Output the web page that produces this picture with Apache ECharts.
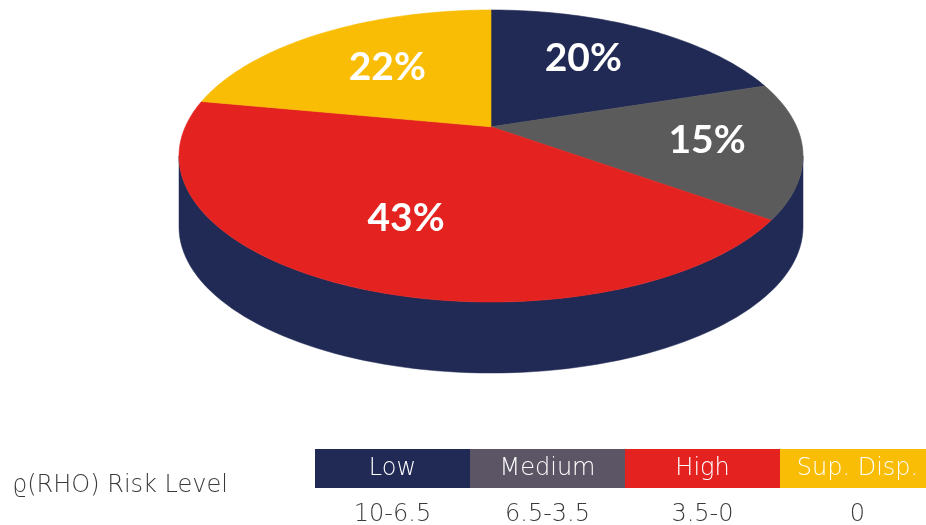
<!DOCTYPE html>
<html>
<head>
<meta charset="utf-8">
<script src="https://cdn.jsdelivr.net/npm/echarts@6/dist/echarts.min.js"></script>
<style>
  html, body { margin: 0; padding: 0; background: #ffffff; }
  #chart { width: 926px; height: 525px; }
</style>
</head>
<body>
<div id="chart"></div>
<script>
// Risk level categories and their share of the total (percent)
const categories = ['Low', 'Medium', 'High', 'Sup. Disp.'];
const shares = [20, 15, 43, 22];
const rangeLabels = ['10-6.5', '6.5-3.5', '3.5-0', '0'];
const rowTitle = 'ϱ(RHO) Risk Level';

const sliceColors = ['#212a54', '#5b5b5b', '#e42320', '#f9bd05'];
const headerColors = ['#212a54', '#5c5566', '#e42320', '#f9bd05'];
const sideColor = '#212a54';

// Tilted-disc geometry: ellipse of the top face, wall height, perspective tilt
const CX = 491, CY = 156, RX = 312, RY = 146, DEPTH = 71, TILT = -0.2;
const GAMMA = 1 / Math.sqrt(1 - TILT * TILT);
// label placement: radial position (fraction of radius) and a small vertical nudge in px
const labelRadius = [0.56, 0.7, 0.62, 0.58];
const labelNudgeY = [-10, -2, 2, -2];

// Map a point of the flat disc (radius r in 0..1, angle clockwise from 12 o'clock)
// onto the screen with a simple perspective tilt.
function project(r, ang) {
  const x = r * Math.sin(ang);
  const y = -r * Math.cos(ang);
  const d = 1 + TILT * y;
  return [CX + RX * x / (GAMMA * d), CY + RY * (y + TILT) / d];
}

const total = shares.reduce((a, b) => a + b, 0);
const startAngles = [];
shares.reduce((acc, v, i) => { startAngles[i] = acc; return acc + v; }, 0);

function renderSide() {
  const pts = [];
  const n = 90;
  for (let k = 0; k <= n; k++) {
    const s = Math.PI * k / n;
    pts.push([CX + RX * Math.cos(s), CY + RY * Math.sin(s)]);
  }
  for (let k = n; k >= 0; k--) {
    const s = Math.PI * k / n;
    pts.push([CX + RX * Math.cos(s), CY + DEPTH + RY * Math.sin(s)]);
  }
  return {
    type: 'polygon',
    shape: { points: pts },
    style: { fill: sideColor, stroke: sideColor, lineWidth: 0.5 }
  };
}

function renderSlice(params, api) {
  const i = params.dataIndex;
  const value = api.value(0);
  const a0 = startAngles[i] / total * Math.PI * 2;
  const a1 = (startAngles[i] + value) / total * Math.PI * 2;
  const pts = [project(0, 0)];
  const steps = Math.max(8, Math.ceil((a1 - a0) / 0.02));
  for (let k = 0; k <= steps; k++) {
    pts.push(project(1, a0 + (a1 - a0) * k / steps));
  }
  const mid = (a0 + a1) / 2;
  const lp = project(labelRadius[i], mid);
  return {
    type: 'group',
    children: [
      {
        type: 'polygon',
        shape: { points: pts },
        style: { fill: sliceColors[i], stroke: sliceColors[i], lineWidth: 0.6 }
      },
      {
        type: 'text',
        x: lp[0],
        y: lp[1] + labelNudgeY[i],
        style: {
          text: value + '%',
          fill: '#ffffff',
          font: 'bold 39px Lato, "Open Sans", sans-serif',
          align: 'center',
          verticalAlign: 'middle'
        }
      }
    ]
  };
}

// Legend table below the pie
const tableFont = '"DejaVu Sans", "Open Sans", sans-serif';
const tableX = 315, cellW = 155, headerY = 449, headerH = 39, valueY = 515;
const tableGraphics = [
  {
    type: 'text',
    x: 12,
    y: 486,
    style: {
      text: rowTitle,
      fill: '#3a3a3a',
      font: '200 24px ' + tableFont,
      align: 'left',
      verticalAlign: 'middle'
    }
  }
];
categories.forEach((name, i) => {
  const x0 = tableX + i * cellW;
  tableGraphics.push({
    type: 'rect',
    shape: { x: x0, y: headerY, width: cellW, height: headerH },
    style: { fill: headerColors[i] }
  });
  tableGraphics.push({
    type: 'text',
    x: x0 + cellW / 2,
    y: headerY + headerH / 2,
    style: {
      text: name,
      fill: '#ffffff',
      font: '200 24px ' + tableFont,
      align: 'center',
      verticalAlign: 'middle'
    }
  });
  tableGraphics.push({
    type: 'text',
    x: x0 + cellW / 2,
    y: valueY,
    style: {
      text: rangeLabels[i],
      fill: '#3a3a3a',
      font: '200 24px ' + tableFont,
      align: 'center',
      verticalAlign: 'middle'
    }
  });
});

const chart = echarts.init(document.getElementById('chart'), null, { renderer: 'canvas' });
chart.setOption({
  animation: false,
  backgroundColor: '#ffffff',
  graphic: tableGraphics,
  series: [
    {
      type: 'custom',
      name: 'wall',
      coordinateSystem: 'none',
      silent: true,
      z: 1,
      data: [0],
      renderItem: renderSide
    },
    {
      type: 'custom',
      name: 'share',
      coordinateSystem: 'none',
      z: 2,
      data: shares.map((v, i) => ({ name: categories[i], value: [v] })),
      renderItem: renderSlice
    }
  ]
});
</script>
</body>
</html>
